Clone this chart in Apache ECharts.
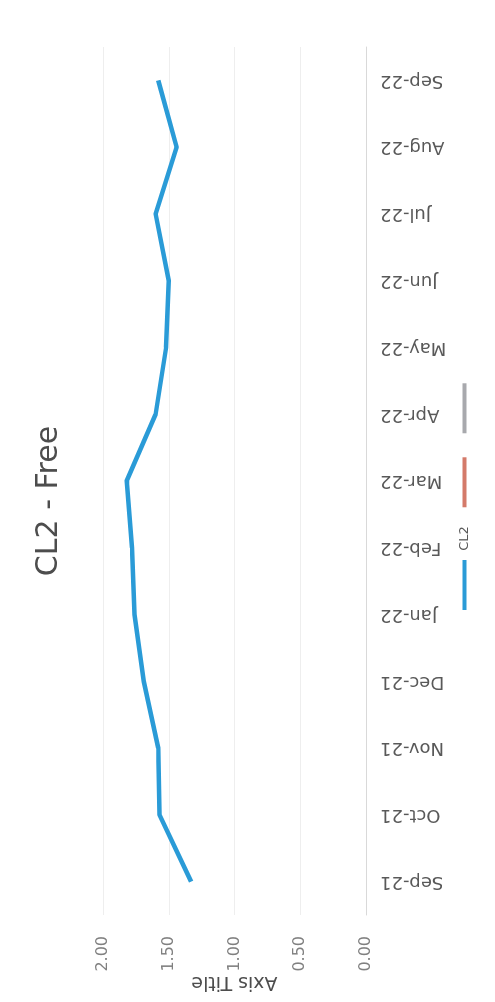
<!DOCTYPE html>
<html>
<head>
<meta charset="utf-8">
<title>CL2 - Free</title>
<script src="https://cdn.jsdelivr.net/npm/echarts@6/dist/echarts.min.js"></script>
<style>
    body {
        margin: 0;
        width: 495px;
        height: 1002px;
        overflow: hidden;
        background: #fff;
    }
    /* the chart is drawn landscape and turned a quarter, like the scan */
    #chart {
        position: absolute;
        left: 0;
        top: 0;
        width: 1002px;
        height: 495px;
        transform-origin: 0 0;
        transform: translateY(1002px) rotate(-90deg);
    }
</style>
</head>
<body>
<div id="chart"></div>
<script>
// 数据
var months = ['Sep-21', 'Oct-21', 'Nov-21', 'Dec-21', 'Jan-22', 'Feb-22', 'Mar-22',
    'Apr-22', 'May-22', 'Jun-22', 'Jul-22', 'Aug-22', 'Sep-22'];
var cl2 = [1.33, 1.57, 1.58, 1.69, 1.76, 1.78, 1.82, 1.60, 1.52, 1.50, 1.60, 1.44, 1.58];
// the two other legend entries have no visible name in the scan
var seriesNames = ['CL2', '\u200b', '\u200b\u200b'];
var valueTicks = [0, 0.5, 1, 1.5, 2];

var font = 'DejaVu Sans';
var chart = echarts.init(document.getElementById('chart'));

var option = {
    animation: false,
    backgroundColor: '#fff',
    title: {
        text: 'CL2 - Free',
        left: 'center',
        top: 34,
        padding: 0,
        textStyle: {
            fontFamily: font,
            fontSize: 30,
            fontWeight: 'normal',
            color: '#4d4d4d'
        }
    },
    color: ['#2a9bd7', '#d47a6a', '#a8a9ad'],
    legend: {
        data: seriesNames,
        left: 392,
        top: 458,
        padding: 0,
        itemWidth: 50,
        itemHeight: 4,
        itemGap: 19,
        icon: 'rect',
        formatter: function (name) {
            // a little more room between the line and the text
            return name === seriesNames[0] ? ' ' + name : name;
        },
        textStyle: {
            fontFamily: font,
            fontSize: 13,
            color: '#595959'
        }
    },
    grid: {
        left: 87,
        right: 47,
        top: 103,
        bottom: 129,
        outerBoundsMode: 'none'
    },
    xAxis: {
        type: 'category',
        data: months,
        boundaryGap: true,
        axisLine: {
            lineStyle: {color: '#d9d9d9'}
        },
        axisTick: {show: false},
        axisLabel: {
            rotate: 90,
            margin: 14,
            fontFamily: font,
            fontSize: 18,
            color: '#595959'
        }
    },
    yAxis: {
        type: 'value',
        min: valueTicks[0],
        max: valueTicks[valueTicks.length - 1],
        interval: valueTicks[1] - valueTicks[0],
        name: 'Axis Title',
        nameLocation: 'middle',
        nameRotate: 90,
        nameGap: 57,
        nameMoveOverlap: false,
        nameTextStyle: {
            fontFamily: font,
            fontSize: 19,
            color: '#4d4d4d'
        },
        axisLine: {show: false},
        axisTick: {show: false},
        axisLabel: {
            margin: 21,
            fontFamily: font,
            fontSize: 16,
            color: '#808080',
            formatter: function (v) {
                return v.toFixed(2);
            }
        },
        splitLine: {
            lineStyle: {color: '#eeeeee'}
        }
    },
    series: [{
        name: seriesNames[0],
        type: 'line',
        data: cl2,
        showSymbol: false,
        lineStyle: {width: 4.5}
    }, {
        name: seriesNames[1],
        type: 'line',
        data: [],
        showSymbol: false
    }, {
        name: seriesNames[2],
        type: 'line',
        data: [],
        showSymbol: false
    }]
};
chart.setOption(option);
</script>
</body>
</html>
